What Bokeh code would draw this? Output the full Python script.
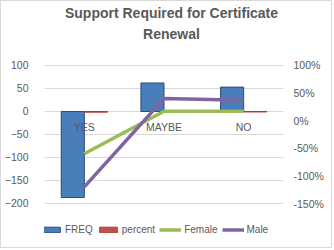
from bokeh.plotting import figure
from bokeh.models import (LinearAxis, Range1d, FixedTicker, NumeralTickFormatter,
                          Legend, LegendItem, FactorRange, ColumnDataSource, Label)
from bokeh.transform import dodge
from bokeh.core.properties import value
from bokeh.embed import file_html
from bokeh.resources import INLINE

# ---- data ----
title_lines = ["Support Required for Certificate", "Renewal"]
categories = ["YES", "MAYBE", "NO"]
freq = [-187, 62, 53]
percent = [-1.5, -1, -1]
female = [-0.60, 0.17, 0.17]
male = [-1.20, 0.40, 0.37]
left_ticks = [-200, -150, -100, -50, 0, 50, 100]
right_ticks = [-1.5, -1.0, -0.5, 0.0, 0.5, 1.0]

FONT = "Liberation Sans"
GREY = "#595959"
BLUE, BLUE_EDGE = "#4A7EBB", "#2C4D75"
RED, RED_EDGE = "#C0504D", "#B03A37"
GREEN, PURPLE = "#9BBB59", "#8064A2"

src = ColumnDataSource(dict(cat=categories, freq=freq, percent=percent,
                            female=female, male=male, zero=[0] * len(categories)))

# frame spans the full height; value ranges padded so that 100 / -200 sit where the
# reference plot area starts and ends (title above, legend below inside the frame)
p = figure(width=332, height=248, x_range=FactorRange(*categories),
           y_range=Range1d(-300, 239.13), output_backend="svg", toolbar_location=None,
           min_border_left=39, min_border_right=50, min_border_top=0, min_border_bottom=0)
p.styles = {"border": "1px solid #D9D9D9"}
p.outline_line_color = None
p.extra_y_ranges = {"pct": Range1d(-2.3333, 2.1594)}

p.xaxis.visible = False
p.xgrid.visible = False
p.ygrid.ticker = FixedTicker(ticks=left_ticks)
p.ygrid.grid_line_color = "#D9D9D9"
ya = p.yaxis[0]
ya.ticker = FixedTicker(ticks=left_ticks)
ya.axis_line_color = None
ya.major_tick_line_color = None
ya.minor_tick_line_color = None
ya.major_label_text_font = FONT
ya.major_label_text_font_size = "10.5px"
ya.major_label_text_color = GREY
ya.major_label_standoff = 10

ra = LinearAxis(y_range_name="pct", ticker=FixedTicker(ticks=right_ticks),
                formatter=NumeralTickFormatter(format="0%"))
ra.axis_line_color = None
ra.major_tick_line_color = None
ra.minor_tick_line_color = None
ra.major_label_text_font = FONT
ra.major_label_text_font_size = "10.5px"
ra.major_label_text_color = GREY
ra.major_label_standoff = 4
p.add_layout(ra, "right")

# ---- title (two centred lines) ----
for i, line in enumerate(title_lines):
    p.add_layout(Label(x=127, y=237 - 21 * i, x_units="screen", y_units="screen", text=line,
                       text_align="center", text_baseline="middle", text_font=FONT,
                       text_font_size="14px", text_font_style="bold", text_color=GREY))

# ---- bars ----
r_freq = p.vbar(x=dodge("cat", -0.145, range=p.x_range), top="freq", bottom=0, width=0.29,
                source=src, fill_color=BLUE, line_color=BLUE_EDGE, line_width=1)
r_pct = p.vbar(x=dodge("cat", 0.145, range=p.x_range), top="percent", bottom=0, width=0.29,
               source=src, fill_color=RED, line_color=RED_EDGE, line_width=1)

# category labels at the zero line
p.text(x="cat", y="zero", text="cat", source=src, text_align="center", text_baseline="top",
       y_offset=10, text_font=value(FONT), text_font_size="10.5px", text_color=GREY)

# ---- lines (secondary axis) ----
r_f = p.line(x="cat", y="female", source=src, y_range_name="pct", line_color=GREEN,
             line_width=3.5)
r_m = p.line(x="cat", y="male", source=src, y_range_name="pct", line_color=PURPLE,
             line_width=3.5)

legend = Legend(items=[LegendItem(label="FREQ", renderers=[r_freq]),
                       LegendItem(label="percent", renderers=[r_pct]),
                       LegendItem(label="Female", renderers=[r_f]),
                       LegendItem(label="Male", renderers=[r_m])],
                orientation="horizontal", location=(-4, 13), border_line_alpha=0,
                background_fill_alpha=0,
                label_text_font=FONT, label_text_font_size="10px", label_text_color=GREY,
                glyph_width=22, glyph_height=7, label_height=14, spacing=4, padding=0,
                margin=0, label_standoff=3)
p.add_layout(legend, "center")

open("out.html", "w").write(file_html(p, INLINE))
